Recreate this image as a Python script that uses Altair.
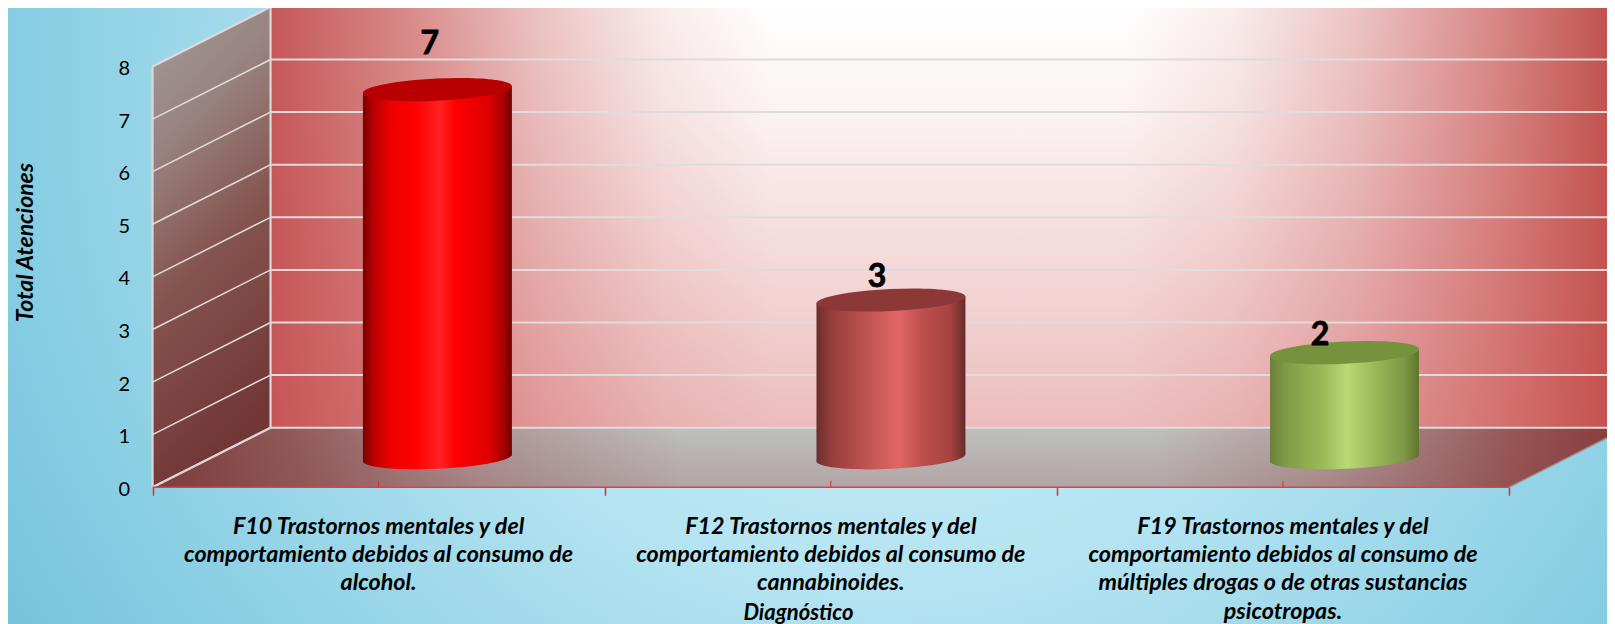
import altair as alt
import pandas as pd

categories = [
    "F10 Trastornos mentales y del\ncomportamiento debidos al consumo de\nalcohol.",
    "F12 Trastornos mentales y del\ncomportamiento debidos al consumo de\ncannabinoides.",
    "F19 Trastornos mentales y del\ncomportamiento debidos al consumo de\nmúltiples drogas o de otras sustancias\npsicotropas.",
]
values = [7, 3, 2]
cyl_x = [0.63, 1.633, 2.636]
label_shift_x = [-0.017, -0.031, -0.054]
label_y = [8.42, 4.0, 2.89]
y_ticks = list(range(9))
x_ticks = [0, 1, 2, 3]

body_stops = [
    [(0, "#7a0000"), (.07, "#b80000"), (.2, "#f00000"), (.35, "#ff0000"), (.52, "#ff2222"), (.62, "#ff0000"), (.85, "#dd0000"), (.95, "#a00000"), (1, "#700000")],
    [(0, "#6b2e2c"), (.1, "#953d3b"), (.3, "#b8504d"), (.55, "#e26766"), (.7, "#bf504e"), (.9, "#a54341"), (1, "#662b29")],
    [(0, "#6a7f3a"), (.1, "#7f9a45"), (.35, "#9aba59"), (.52, "#b9d975"), (.7, "#9aba59"), (.9, "#7d9744"), (1, "#5f742f")],
]
top_colors = ["#b80000", "#8c3836", "#76923c"]

X_DOMAIN = [-0.3196, 3.2165]
Y_DOMAIN = [-2.599, 9.112]
DEPTH_X, DEPTH_Y = 0.261, 1.133
CYL_Y, CYL_HALF, TILT = 0.56, 0.1647, 0.0665
FONT = "Lato"

xs = alt.Scale(domain=X_DOMAIN, nice=False, zero=False)
ys = alt.Scale(domain=Y_DOMAIN, nice=False, zero=False)

X_AXIS = alt.Axis(
    values=x_ticks, labels=False, domain=False, grid=False, tickColor="#ff2020", tickSize=8, tickWidth=1.5,
    offset=-136.7, zindex=1, title="Diagnóstico", titleFont=FONT, titleFontSize=22, titleFontStyle="italic",
    titleFontWeight="bold", titleColor="#000000", titleX=790, titleY=125, titleAlign="center", titleBaseline="middle",
)
Y_AXIS = alt.Axis(
    values=y_ticks, format="d", domain=False, ticks=False, grid=False, labelFont=FONT, labelFontSize=20, labelColor="#000000",
    labelPadding=23, labelOffset=2, offset=-144.5, zindex=1, title="Total Atenciones", titleFont=FONT, titleFontSize=23,
    titleFontStyle="italic", titleFontWeight="bold", titleColor="#000000", titleX=-127.5, titleY=234,
    titleAlign="center", titleBaseline="middle",
)


def grad(stops, x1=0, y1=0, x2=1, y2=0):
    return alt.LinearGradient(
        gradient="linear", x1=x1, y1=y1, x2=x2, y2=y2,
        stops=[alt.GradientStop(offset=o, color=c) for o, c in stops],
    )


def enc(ch, with_y2=True, with_x2=False):
    kw = dict(
        x=alt.X("x:Q", scale=xs, axis=X_AXIS),
        y=alt.Y("y:Q", scale=ys, axis=Y_AXIS),
    )
    if with_y2:
        kw["y2"] = alt.Y2("y2:Q")
    if with_x2:
        kw["x2"] = alt.X2("x2:Q")
    return ch.encode(**kw)


def rules(rows, color, width):
    return enc(
        alt.Chart(pd.DataFrame(rows)).mark_rule(color=color, strokeWidth=width, clip=True),
        True, True,
    )


def area(rows, fill):
    return enc(alt.Chart(pd.DataFrame(rows)).mark_area(color=fill, opacity=1, clip=True, orient="vertical"))


bg = enc(alt.Chart(pd.DataFrame([dict(x=X_DOMAIN[0], x2=X_DOMAIN[1], y=Y_DOMAIN[0], y2=Y_DOMAIN[1])])).mark_rect(
    color=alt.RadialGradient(
        gradient="radial", x1=.55, y1=.36, x2=.55, y2=.36, r1=0, r2=.7,
        stops=[alt.GradientStop(offset=0, color="#d6f3f9"), alt.GradientStop(offset=.45, color="#b4e3f1"),
               alt.GradientStop(offset=.8, color="#84cce2"), alt.GradientStop(offset=1, color="#6dbdd8")],
    )
), True, True)

back_rect = [dict(x=DEPTH_X, y=DEPTH_Y, y2=DEPTH_Y + 8), dict(x=3 + DEPTH_X, y=DEPTH_Y, y2=DEPTH_Y + 8)]
wall = area(back_rect, grad([(0, "#c4585a"), (.1, "#d88a88"), (.2, "#ecc4c4"), (.29, "#f9ecec"), (.37, "#ffffff"),
                             (.63, "#ffffff"), (.71, "#f9ecec"), (.8, "#ecc4c4"), (.9, "#d88a88"), (1, "#bc4a46")]))
wall_shade = area(back_rect, grad([(0, "rgba(205,80,80,0)"), (.25, "rgba(205,80,80,0.07)"), (1, "rgba(205,80,80,0.38)")], 0, 0, 0, 1))

side = area([dict(x=0, y=0, y2=8), dict(x=DEPTH_X, y=DEPTH_Y, y2=DEPTH_Y + 8)],
            grad([(0, "#a39d9b"), (.3, "#98827f"), (.6, "#85544f"), (1, "#723636")], 0, 0, .25, 1))

floor_rows = [
    dict(x=0, y=0, y2=0),
    dict(x=DEPTH_X, y=0, y2=DEPTH_Y),
    dict(x=3, y=0, y2=DEPTH_Y),
    dict(x=3 + DEPTH_X, y=DEPTH_Y, y2=DEPTH_Y),
]
floor = area(floor_rows, grad([(0, "#7a3c3c"), (.1, "#945c5c"), (.22, "#ae9696"), (.36, "#bfbfbf"), (.68, "#c0c0c0"),
                               (.8, "#b09a9a"), (.92, "#985858"), (1, "#883838")]))
floor_shade = area(floor_rows, grad([(0, "rgba(120,50,50,0)"), (1, "rgba(130,60,60,0.20)")], 0, 0, 0, 1))

back_grid = rules([dict(x=DEPTH_X, x2=3 + DEPTH_X, y=DEPTH_Y + i, y2=DEPTH_Y + i) for i in y_ticks], "#e0dcdc", 2)
side_grid = rules([dict(x=0, x2=DEPTH_X, y=i, y2=DEPTH_Y + i) for i in y_ticks], "#e3dedc", 1.5)
edges = rules([
    dict(x=0, x2=0, y=0, y2=8),
    dict(x=DEPTH_X, x2=DEPTH_X, y=DEPTH_Y, y2=DEPTH_Y + 8),
    dict(x=0, x2=DEPTH_X, y=0, y2=DEPTH_Y),
    dict(x=0, x2=DEPTH_X, y=8, y2=DEPTH_Y + 8),
], "#ddd8d6", 2.2)
right_edge = rules([dict(x=3, x2=3 + DEPTH_X, y=0, y2=DEPTH_Y)], "#9a8f8f", 1.5)
base_line = rules([dict(x=0, x2=3, y=0, y2=0)], "#d9434a", 1.6)
mid_ticks = rules([dict(x=i + .5, x2=i + .5, y=0, y2=.12) for i in range(3)], "#ff2020", 1)

ELLIPSE = "M-1,0.047A1.0011,0.148,-2.7,1,1,1,-0.047A1.0011,0.148,-2.7,1,1,-1,0.047Z"
SIZE = 22201

cyls = []
for i, v in enumerate(values):
    cx = cyl_x[i]
    g = grad(body_stops[i])
    body = area([
        dict(x=cx - CYL_HALF, y=CYL_Y - TILT, y2=CYL_Y + v - TILT),
        dict(x=cx + CYL_HALF, y=CYL_Y + TILT, y2=CYL_Y + v + TILT),
    ], g)
    bottom = enc(
        alt.Chart(pd.DataFrame([dict(x=cx, y=CYL_Y)])).mark_point(
            shape=ELLIPSE, size=SIZE, filled=True, fill=g, opacity=1, strokeWidth=0),
        False,
    )
    top = enc(
        alt.Chart(pd.DataFrame([dict(x=cx, y=CYL_Y + v)])).mark_point(
            shape=ELLIPSE, size=SIZE, filled=True, fill=top_colors[i], opacity=1, strokeWidth=0),
        False,
    )
    cyls += [bottom, body, top]

labels = enc(
    alt.Chart(pd.DataFrame(dict(
        x=[c + s for c, s in zip(cyl_x, label_shift_x)], y=label_y, t=[str(v) for v in values]
    ))).mark_text(font=FONT, fontSize=32, fontWeight="bold", color="#000000", stroke="#000000", strokeWidth=0.8,
                  baseline="middle", align="center"),
    False,
).encode(text="t:N")

cat_text = enc(
    alt.Chart(pd.DataFrame(dict(x=[.5, 1.5, 2.5], y=[-0.54] * 3, t=categories))).mark_text(
        font=FONT, fontSize=23.3, fontWeight="bold", fontStyle="italic", color="#000000", align="center",
        baseline="top", lineBreak="\n", lineHeight=28.3),
    False,
).encode(text="t:N")

chart = alt.layer(
    bg, wall, wall_shade, side, floor, floor_shade, back_grid, side_grid, edges, right_edge, base_line, mid_ticks,
    *cyls, labels, cat_text,
).properties(
    width=1599, height=616, padding=0, autosize="none",
).configure_view(stroke=None)

chart.save("out.html", embed_options={"renderer": "svg", "actions": False})
